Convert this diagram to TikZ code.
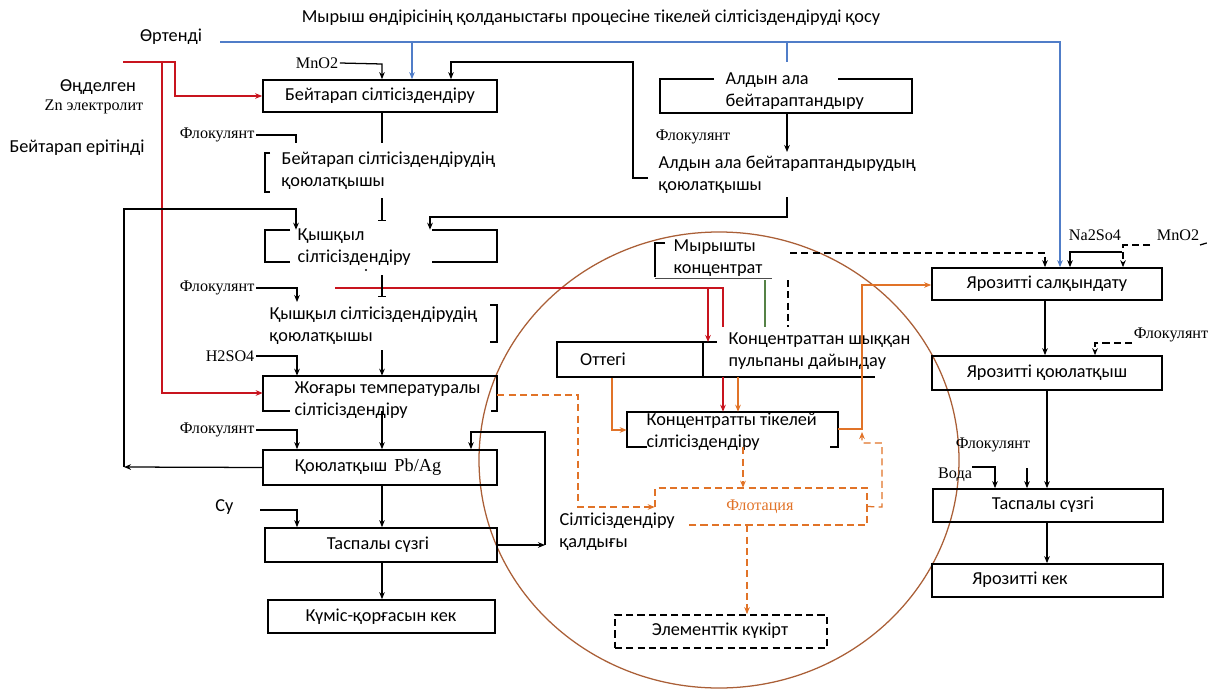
\documentclass[tikz,border=0pt]{standalone}
\usepackage{fontspec}
\setmainfont{Carlito}
\newfontfamily\tnr{Liberation Serif}
\usetikzlibrary{arrows.meta,fit}

\definecolor{rd}{RGB}{200,20,30}
\definecolor{bl}{RGB}{80,125,200}
\definecolor{og}{RGB}{225,115,40}
\definecolor{br}{RGB}{170,95,55}
\definecolor{gr}{RGB}{85,130,70}

\tikzset{
  box/.style={draw, line width=1.2pt, inner sep=0pt},
  area/.style={inner sep=0pt},
  bx/.style={line width=1.2pt},
  txt/.style={font=\fontsize{13}{15.5}\selectfont, inner sep=1pt},
  ser/.style={font=\tnr\fontsize{11.5}{13}\selectfont, inner sep=1pt},
  ln/.style={line width=0.9pt},
  ar/.style={ln, -{Stealth[length=5pt,width=4pt]}},
  tee/.style={ln, -{Bar[width=5pt]}},
  dsh/.style={dash pattern=on 5pt off 3pt},
}

\begin{document}
\begin{tikzpicture}[x=0.025cm, y=-0.025cm]
\useasboundingbox (0,0) rectangle (1210,690);

\draw[br, line width=0.9pt] (719,460) ellipse [x radius=240, y radius=228];

\node[txt] (title) at (591,18) {Мырыш өндірісінің қолданыстағы процесіне тікелей сілтісіздендіруді қосу};
\node[txt] (ortendi) at (171,37) {Өртенді};
\node[txt] (ondel) at (98,87) {Өңделген};
\node[ser] (zn) at (94,107) {Zn электролит};
\node[txt] (beiter) at (77,148) {Бейтарап ерітінді};

% left line
\node[ser] (mnoA) at (317,63) {MnO2};
\node[box, fit={(263,80) (497,112)}] (b1) {};
\node[txt] (b1t) at (b1.center) {Бейтарап сілтісіздендіру};
\node[ser, anchor=east] (flokA) at (256,135) {Флокулянт};
\node[txt, align=left, anchor=west] (b2t) at (280,171) {Бейтарап сілтісіздендірудің\\қоюлатқышы};
\draw[bx] (270,153) -- (265,153) -- (265,192) -- (270,192);

\node[area, fit={(265,230) (497,262)}] (b3) {};
\node[txt, align=left, anchor=west] (b3t) at (296,247) {Қышқыл\\сілтісіздендіру};
\draw[bx] (290,230) -- (265,230) -- (265,262) -- (290,262);
\draw[bx] (432,230) -- (497,230) -- (497,262) -- (432,262);
\fill (366,270) circle (1.2);

\node[ser, anchor=east] (flokB) at (256,288) {Флокулянт};
\node[txt, align=left, anchor=west] (b4t) at (268,326) {Қышқыл сілтісіздендірудің\\қоюлатқышы};
\draw[bx] (490,305) -- (497,305) -- (497,342) -- (490,342);

\node[ser, anchor=east] (hso) at (256,356) {H2SO4};
\node[area, fit={(263,376) (497,411)}] (b5) {};
\node[txt, align=left, anchor=west] (b5t) at (293,400) {Жоғары температуралы\\сілтісіздендіру};
\draw[bx] (290,411) -- (263,411) -- (263,376) -- (497,376) -- (497,411) -- (491,411);

\node[ser, anchor=east] (flokC) at (256,430) {Флокулянт};
\node[box, fit={(263,450) (497,485)}] (b6) {};
\node[txt] (b6t) at (368,467) {Қоюлатқыш \,{\tnr Pb/Ag}};
\node[txt, anchor=east] (su) at (235,507) {Су};
\node[box, fit={(265,528) (497,562)}] (b7) {};
\node[txt] (b7t) at (378,545) {Таспалы сүзгі};
\node[box, fit={(268,600) (495,633)}] (b8) {};
\node[txt] (b8t) at (381,617) {Күміс-қорғасын кек};

% middle
\node[area, fit={(660,79) (912,113)}] (p1) {};
\node[txt, align=left, anchor=west] (p1t) at (724,91) {Алдын ала\\бейтараптандыру};
\draw[bx] (714,79) -- (660,79) -- (660,113) -- (912,113) -- (912,79) -- (838,79);
\node[ser] (flokD) at (693,137) {Флокулянт};
\node[txt, align=left, anchor=west] (p2t) at (657,175) {Алдын ала бейтараптандырудың\\қоюлатқышы};

\node[txt, align=left, anchor=west] (zct) at (672,258) {Мырышты\\концентрат};
\draw[bx] (665,243) -- (655,243) -- (655,277);
\draw[line width=0.6pt, black!70] (655,278) -- (772,278);

\node[box, fit={(557,342) (703,377)}] (ox) {};
\node[txt] (oxt) at (603,359) {Оттегі};
\draw[bx] (703,342) -- (717,342);
\draw[bx] (703,377) -- (875,377);
\node[txt, align=left, anchor=west] (pulpt) at (727,351) {Концентраттан шыққан\\пульпаны дайындау};

\node[area, fit={(627,412) (838,447)}] (cd) {};
\node[txt, align=left, anchor=west] (cdt) at (645,432) {Концентратты тікелей\\сілтісіздендіру};
\draw[bx] (647,447) -- (627,447) -- (627,412) -- (838,412) -- (838,447) -- (830,447);

\node[area, fit={(655,488) (867,525)}] (flot) {};
\draw[og, bx, dsh] (655,507) -- (655,488) -- (867,488) -- (867,525) -- (687,525);
\node[ser, og] (flott) at (760,507) {Флотация};
\node[txt, align=left, anchor=west] (qald) at (558,532) {Сілтісіздендіру\\қалдығы};
\node[box, dsh, fit={(615,615) (827,648)}] (sulf) {};
\node[txt] (sulft) at (720,631) {Элементтік күкірт};

% right line
\node[ser] (na) at (1095,235) {Na2So4};
\node[ser] (mnoB) at (1178,235) {MnO2};
\node[box, fit={(932,268) (1162,300)}] (j1) {};
\node[txt] (j1t) at (1047,284) {Ярозитті салқындату};
\node[ser] (flokE) at (1171,335) {Флокулянт};
\node[box, fit={(932,356) (1162,390)}] (j2) {};
\node[txt] (j2t) at (1047,373) {Ярозитті қоюлатқыш};
\node[ser] (flokF) at (993,445) {Флокулянт};
\node[ser] (voda) at (955,475) {Вода};
\node[box, fit={(933,489) (1163,522)}] (j3) {};
\node[txt] (j3t) at (1043,505) {Таспалы сүзгі};
\node[box, fit={(932,564) (1163,597)}] (j4) {};
\node[txt] (j4t) at (1020,580) {Ярозитті кек};

% blue and red feeds
\draw[bl, ar] (220,42) -- (1060,42) -- (1060,42 |- j1.north);
\draw[bl, ar] (412,42) -- (412,42 |- b1.north);
\draw[bl, ln] (787,42) -- (787,62);
\draw[rd, ar] (123,62) -- (175,62) -- (175,62 |- b1.west) -- (b1.west);
\draw[rd, ar] (162,62) -- (162,393) -- (162,393 -| b5.west);
\draw[rd, ln] (335,288) -- (723,288) -- (723,327);
\draw[rd, ar] (708,288) -- (708,342 -| 708,0);
\draw[rd, ar] (723,377) -- (723,377 |- cd.north);

% left connectors
\draw[ar] (mnoA.east) -- (382,64) -- (382,64 |- b1.north);
\draw[ar] (648,178) -- (633,178) -- (633,62) -- (451,62) -- (451,62 |- b1.north);
\draw[ln] (382,62 |- b1.south) -- (382,143);
\draw[ln] (flokA.east) -- (296,135) -- (296,143);
\draw[tee] (382,198) -- (382,221);
\draw[ar] (b6.west) -- (124,467);
\draw[ar] (124,467) -- (124,209) -- (296,209) -- (296,209 |- b3.north);
\draw[ar] (787,197) -- (787,217) -- (430,217) -- (430,217 |- b3.north);
\draw[tee] (382,275) -- (382,297);
\draw[ar] (flokB.east) -- (297,288) -- (297,302);
\draw[ar] (hso.east) -- (297,356) -- (297,356 |- b5.north);
\draw[ar] (382,350) -- (382,350 |- b5.north);
\draw[ar] (flokC.east) -- (297,430) -- (297,430 |- b6.north);
\draw[ar] (382,411) -- (382,411 |- b6.north);
\draw[ar] (260,510) -- (297,510) -- (297,510 |- b7.north);
\draw[ar] (382,62 |- b6.south) -- (382,62 |- b7.north);
\draw[ar] (382,62 |- b7.south) -- (382,62 |- b8.north);
\draw[ar] (b7.east) -- (545,545);
\draw[ar] (545,545) -- (545,432) -- (471,432) -- (471,432 |- b6.north);
\draw[og, ar, dsh] (b5.east |- 0,395) -- (578,395) -- (578,507) -- (flot.west |- 0,507);

% middle connectors
\draw[ar] (787,62 |- p1.south) -- (787,152);
\draw[ar, dsh] (790,253) -- (1045,253) -- (1045,253 |- j1.north);
\draw[ln, dsh] (788,280) -- (788,327);
\draw[gr, ln] (765,280) -- (765,327);
\draw[og, ar] (612,62 |- ox.south) -- (612,430) -- (612,430 -| cd.west);
\draw[og, ar] (738,377) -- (738,377 |- cd.north);
\draw[og, ar] (cd.east |- 0,429) -- (862,429) -- (862,285) -- (862,285 -| j1.west);
\draw[og, ar, dsh] (743,62 |- cd.south) -- (743,62 |- flot.north);
\draw[og, ar, dsh] (flot.east) -- (882,507) -- (882,443) -- (862,443) -- (862,432);
\draw[og, ar, dsh] (747,62 |- flot.south) -- (747,62 |- sulf.north);

% right connectors
\draw[ar] (1122,252) -- (1070,252) -- (1070,252 |- j1.north);
\draw[ar, dsh] (1150,245) -- (1123,245) -- (1123,245 |- j1.north);
\draw[ln, dsh] (1200,245) -- (1210,242);
\draw[ar] (1045,62 |- j1.south) -- (1045,62 |- j2.north);
\draw[ar, dsh] (1132,343) -- (1095,343) -- (1095,343 |- j2.north);
\draw[ar] (1047,62 |- j2.south) -- (1047,62 |- j3.north);
\draw[ar] (1027,468) -- (1027,468 |- j3.north);
\draw[ar] (972,467) -- (995,467) -- (995,467 |- j3.north);
\draw[ar] (1047,62 |- j3.south) -- (1047,62 |- j4.north);

\end{tikzpicture}
\end{document}
